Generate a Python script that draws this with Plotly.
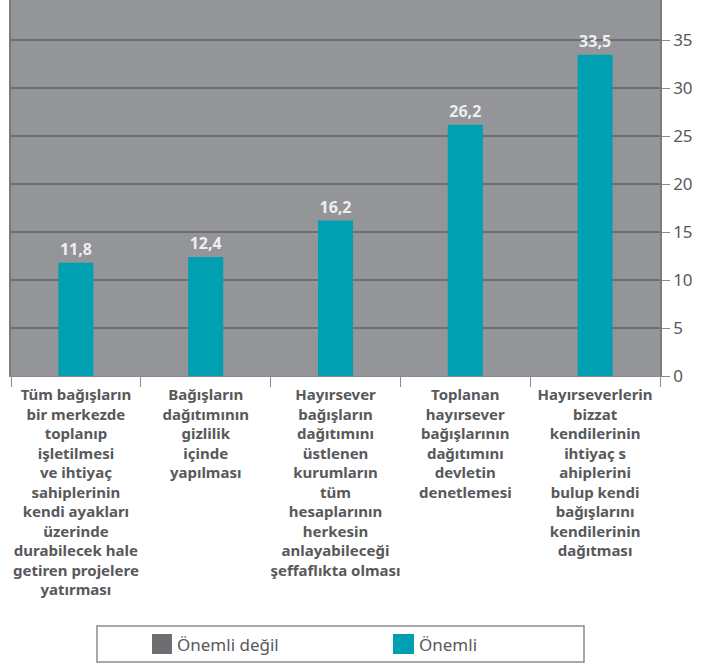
import plotly.graph_objects as go

categories = [
    "Tüm bağışların<br>bir merkezde<br>toplanıp<br>işletilmesi<br>ve ihtiyaç<br>sahiplerinin<br>kendi ayakları<br>üzerinde<br>durabilecek hale<br>getiren projelere<br>yatırması",
    "Bağışların<br>dağıtımının<br>gizlilik<br>içinde<br>yapılması",
    "Hayırsever<br>bağışların<br>dağıtımını<br>üstlenen<br>kurumların<br>tüm<br>hesaplarının<br>herkesin<br>anlayabileceği<br>şeffaflıkta olması",
    "Toplanan<br>hayırsever<br>bağışlarının<br>dağıtımını<br>devletin<br>denetlemesi",
    "Hayırseverlerin<br>bizzat<br>kendilerinin<br>ihtiyaç s<br>ahiplerini<br>bulup kendi<br>bağışlarını<br>kendilerinin<br>dağıtması",
]
onemli = [11.8, 12.4, 16.2, 26.2, 33.5]
series_names = ["Önemli değil", "Önemli"]
series_colors = ["#6d6e71", "#00a0b2"]
y_ticks = [0, 5, 10, 15, 20, 25, 30, 35]

TXT = "#58595b"
BG = "#939598"
GRID = "#6d6e71"
FONT = "Noto Sans"

plot_l, plot_r, plot_t, plot_b = 11, 660, 0, 376

fig = go.Figure()
fig.add_trace(go.Bar(
    x=categories, y=onemli, name=series_names[1],
    marker=dict(color=series_colors[1], line=dict(width=0)),
    width=0.27,
    text=[f"{v:.1f}".replace(".", ",") for v in onemli],
    textposition="outside",
    textfont=dict(family=FONT, size=16, color="#eeeeee", weight="bold"),
    cliponaxis=False,
    showlegend=False,
))

fig.update_layout(
    width=704, height=666,
    margin=dict(l=plot_l, r=704 - plot_r, t=plot_t, b=666 - plot_b, autoexpand=False),
    paper_bgcolor="white",
    plot_bgcolor=BG,
    font=dict(family=FONT, color=TXT),
    showlegend=False,
)
fig.update_xaxes(
    type="category",
    automargin=False,
    tickson="boundaries",
    ticks="outside", ticklen=10, tickcolor="#8a8a8a", tickwidth=1,
    ticklabelstandoff=5,
    showline=True, linecolor="#8a8a8a", linewidth=1,
    showgrid=False,
    tickangle=0,
    tickfont=dict(family=FONT, size=15, color=TXT, weight="bold"),
)
fig.update_yaxes(
    side="right",
    automargin=False,
    range=[0, 39.2],
    tickvals=y_ticks,
    ticks="outside", ticklen=8, tickcolor="#8a8a8a", tickwidth=1,
    showline=True, linecolor="#7a7b7e", linewidth=1.5, mirror=True,
    showgrid=True, gridcolor=GRID, gridwidth=2,
    zeroline=False,
    tickfont=dict(family=FONT, size=17, color=TXT),
)

# Manual legend, positioned in paper coordinates relative to the plot area
def X(x):
    return (x - plot_l) / (plot_r - plot_l)
def Y(y):
    return (plot_b - y) / (plot_b - plot_t)

lx0, lx1, ly0, ly1 = 97, 584, 626, 662
fig.add_shape(type="rect", xref="paper", yref="paper",
              x0=X(lx0), x1=X(lx1), y0=Y(ly1), y1=Y(ly0),
              line=dict(color="#8a8a8a", width=1.5), fillcolor="white", layer="above")
sq = [(152, 172), (393, 414)]
for (a, b), name, col in zip(sq, series_names, series_colors):
    fig.add_shape(type="rect", xref="paper", yref="paper",
                  x0=X(a), x1=X(b), y0=Y(654), y1=Y(634),
                  line=dict(width=0), fillcolor=col, layer="above")
    fig.add_annotation(xref="paper", yref="paper", x=X(b + 3), y=Y(644),
                       text=name, showarrow=False, xanchor="left", yanchor="middle",
                       font=dict(family=FONT, size=17, color=TXT))

fig.write_html("out.html",
               config={"displayModeBar": False},
               post_script="document.body.style.margin='0';document.body.style.overflow='hidden';")
